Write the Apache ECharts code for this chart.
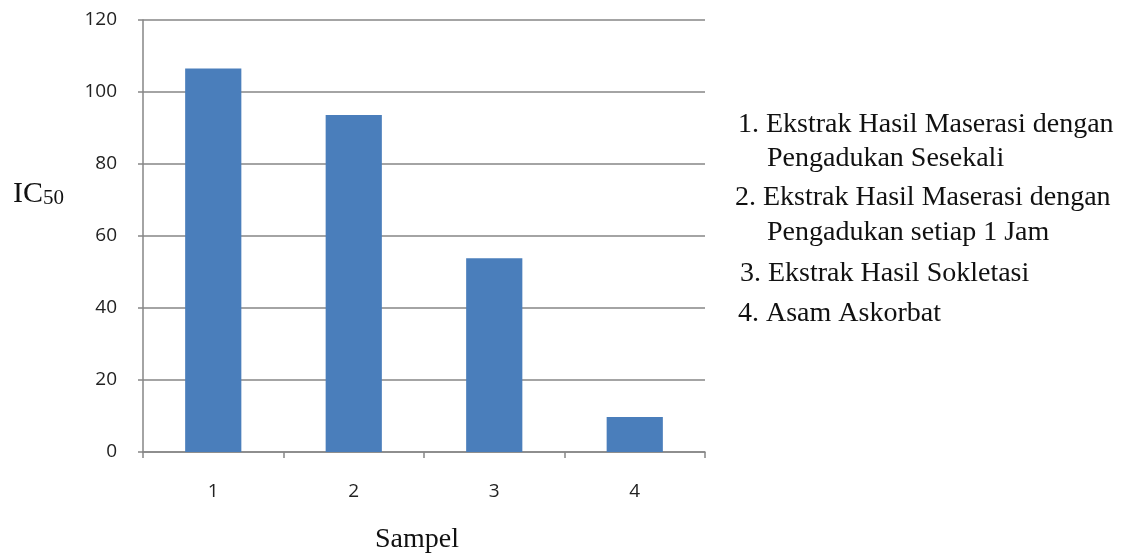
<!DOCTYPE html>
<html>
<head>
<meta charset="utf-8">
<script src="https://cdn.jsdelivr.net/npm/echarts@6/dist/echarts.min.js"></script>
<style>html,body{margin:0;padding:0;background:#fff}#c{width:1124px;height:560px}</style>
</head>
<body>
<div id="c"></div>
<script>
var categories = ['1', '2', '3', '4'];
var ic50Values = [106.5, 93.6, 53.8, 9.7];
var yTicks = [0, 20, 40, 60, 80, 100, 120];
var noteLines = [
  '1. Ekstrak Hasil Maserasi dengan',
  'Pengadukan Sesekali',
  '2. Ekstrak Hasil Maserasi dengan',
  'Pengadukan setiap 1 Jam',
  '3. Ekstrak Hasil Sokletasi',
  '4. Asam Askorbat'
];
var yAxisTitle = 'IC';
var yAxisTitleSub = '50';
var xAxisTitle = 'Sampel';

var chart = echarts.init(document.getElementById('c'));
var serif = '"Liberation Serif", "DejaVu Serif", serif';
var noteLeft = [738, 767, 735, 767, 740, 738];
var noteTop = [111, 145, 184, 219, 260, 300];
var graphics = noteLines.map(function (t, i) {
  return { type: 'text', left: noteLeft[i], top: noteTop[i], style: { text: t, font: '28px ' + serif, fill: '#111' } };
});
graphics.push({ type: 'text', left: 13, top: 179, style: { text: yAxisTitle, font: '30px ' + serif, fill: '#111' } });
graphics.push({ type: 'text', left: 43, top: 188, style: { text: yAxisTitleSub, font: '21px ' + serif, fill: '#111' } });
graphics.push({ type: 'text', left: 375, top: 526, style: { text: xAxisTitle, font: '28px ' + serif, fill: '#111' } });

chart.setOption({
  animation: false,
  grid: { left: 143, right: 419, top: 20, bottom: 108 },
  xAxis: {
    type: 'category',
    data: categories,
    axisLine: { lineStyle: { color: '#868686', width: 1.5 } },
    axisTick: { show: true, length: 6, lineStyle: { color: '#868686', width: 1.5 } },
    axisLabel: { fontFamily: 'Open Sans, sans-serif', fontSize: 19, color: '#222', margin: 30 }
  },
  yAxis: {
    type: 'value',
    min: 0,
    max: 120,
    interval: 20,
    axisLine: { show: true, lineStyle: { color: '#868686', width: 1.5 } },
    axisTick: { show: true, length: 5, lineStyle: { color: '#868686', width: 1.5 } },
    axisLabel: { fontFamily: 'Open Sans, sans-serif', fontSize: 19, color: '#222', margin: 26,
      formatter: function (v) { return yTicks.indexOf(v) >= 0 ? String(v) : ''; } },
    splitLine: { lineStyle: { color: '#868686', width: 1.5 } }
  },
  series: [{
    type: 'bar',
    data: ic50Values,
    barWidth: '40%',
    itemStyle: { color: '#4a7ebb' }
  }],
  graphic: graphics
});
</script>
</body>
</html>
